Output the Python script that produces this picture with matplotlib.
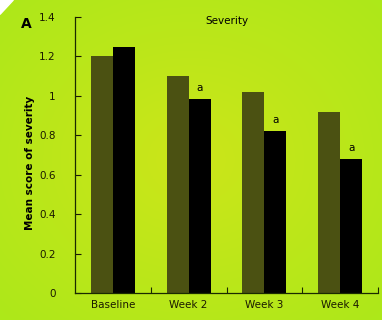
import numpy as np
import matplotlib
matplotlib.use("Agg")
import matplotlib.pyplot as plt
from matplotlib.patches import Polygon

weeks = ["Baseline", "Week 2", "Week 3", "Week 4"]
group1 = [1.20, 1.10, 1.02, 0.92]
group2 = [1.25, 0.985, 0.82, 0.68]
marks = ["", "a", "a", "a"]

fig = plt.figure(figsize=(3.82, 3.2), dpi=100)

# soft green backdrop, a bit more yellow in the middle
bg = fig.add_axes([0, 0, 1, 1], zorder=-10)
yy, xx = np.mgrid[0:1:200j, 0:1:200j]
r = np.sqrt((xx - 0.5) ** 2 + (yy - 0.5) ** 2)
c0 = np.array([0.80, 0.90, 0.10])
c1 = np.array([0.68, 0.91, 0.10])
t = np.clip(r / 0.7, 0, 1)[..., None]
bg.imshow(c0 * (1 - t) + c1 * t, extent=[0, 1, 0, 1], aspect="auto")
bg.add_patch(Polygon([[0, 1], [0.035, 1], [0, 0.955]], closed=True, color="white"))
bg.set_xlim(0, 1)
bg.set_ylim(0, 1)
bg.axis("off")

ax = fig.add_axes([0.196, 0.084, 0.794, 0.863])
ax.patch.set_alpha(0)

x = np.arange(len(weeks))
w = 0.29
ax.bar(x - w / 2, group1, w, color="#4b5112")
ax.bar(x + w / 2, group2, w, color="black")
for xi, v, m in zip(x, group2, marks):
    if m:
        ax.text(xi + w / 2, v + 0.03, m, ha="center", va="bottom", fontsize=7.5)

ax.set_xlim(-0.5, 3.5)
ax.set_ylim(0, 1.4)
ax.set_yticks([0, 0.2, 0.4, 0.6, 0.8, 1, 1.2, 1.4])
ax.set_yticklabels(["0", "0.2", "0.4", "0.6", "0.8", "1", "1.2", "1.4"])
ax.set_xticks(x)
ax.set_xticklabels(weeks)
ax.set_xticks([0.5, 1.5, 2.5, 3.5], minor=True)
ax.tick_params(axis="x", which="major", length=0, pad=5, labelsize=7.5, colors="#1a1a00")
ax.tick_params(axis="x", which="minor", direction="in", length=4, width=0.8, color="#1a2a00")
ax.tick_params(axis="y", direction="in", length=4, width=0.8, pad=14, labelsize=7.5,
               colors="#1a1a00")
for s in ["top", "right"]:
    ax.spines[s].set_visible(False)
for s in ["left", "bottom"]:
    ax.spines[s].set_color("#1a2a00")
    ax.spines[s].set_linewidth(0.9)

ax.set_ylabel("Mean score of severity", fontsize=7.5, fontweight="bold")
ax.yaxis.set_label_coords(-0.13, 0.47)
ax.text(0.5, 0.985, "Severity", transform=ax.transAxes, ha="center", va="center", fontsize=7.5)
fig.text(0.07, 0.925, "A", fontsize=10, fontweight="bold", ha="center", va="center")

fig.savefig("out.png", dpi=100)
